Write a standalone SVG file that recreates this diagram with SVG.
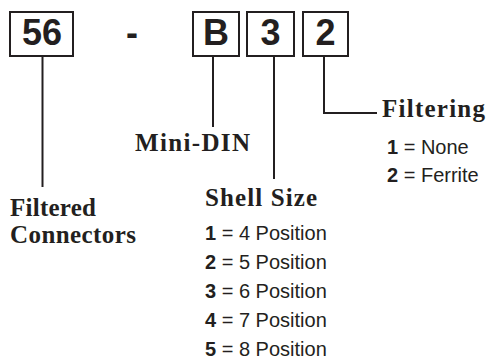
<svg xmlns="http://www.w3.org/2000/svg" width="489" height="362" viewBox="0 0 489 362">
<style>
.box{fill:#fff;stroke:#231f20;stroke-width:2}
.code{font-family:"Liberation Sans",Arial,sans-serif;font-weight:bold;font-size:36px;fill:#231f20;text-anchor:middle}
.ttl{font-family:"Liberation Serif","Times New Roman",serif;font-weight:bold;font-size:25px;fill:#231f20}
.opt{font-family:"Liberation Sans",Arial,sans-serif;font-size:20px;fill:#231f20}
.opt tspan.b{font-weight:bold}
.ln{fill:none;stroke:#231f20;stroke-width:2}
</style>
<rect width="489" height="362" fill="#fff"/>
<g id="box-56"><rect class="box" x="10" y="12" width="63" height="44"/><text class="code" x="42" y="45">56</text></g>
<g id="dash"><text class="code" x="132" y="45">-</text></g>
<g id="box-B"><rect class="box" x="193" y="12" width="46" height="44"/><text class="code" x="216" y="45">B</text></g>
<g id="box-3"><rect class="box" x="247" y="12" width="47" height="44"/><text class="code" x="270.5" y="45">3</text></g>
<g id="box-2"><rect class="box" x="303" y="12" width="45" height="44"/><text class="code" x="325.5" y="45">2</text></g>
<g id="connectors">
<path class="ln" d="M42.5 56V187"/>
<path class="ln" d="M213 56V127"/>
<path class="ln" d="M274 56V179"/>
<path class="ln" d="M324 56V113H377"/>
</g>
<g id="filtered-connectors"><text class="ttl" x="10" y="216" textLength="86">Filtered</text><text class="ttl" x="10" y="243" textLength="126">Connectors</text></g>
<g id="mini-din"><text class="ttl" x="135" y="151" textLength="115">Mini-DIN</text></g>
<g id="shell-size"><text class="ttl" x="205" y="206" textLength="112">Shell Size</text>
<text class="opt" x="205" y="240"><tspan class="b">1</tspan> = 4 Position</text>
<text class="opt" x="205" y="269"><tspan class="b">2</tspan> = 5 Position</text>
<text class="opt" x="205" y="298"><tspan class="b">3</tspan> = 6 Position</text>
<text class="opt" x="205" y="327"><tspan class="b">4</tspan> = 7 Position</text>
<text class="opt" x="205" y="356"><tspan class="b">5</tspan> = 8 Position</text>
</g>
<g id="filtering"><text class="ttl" x="382" y="117" textLength="103">Filtering</text>
<text class="opt" x="387" y="154"><tspan class="b">1</tspan> = None</text>
<text class="opt" x="387" y="182"><tspan class="b">2</tspan> = Ferrite</text>
</g>
</svg>
